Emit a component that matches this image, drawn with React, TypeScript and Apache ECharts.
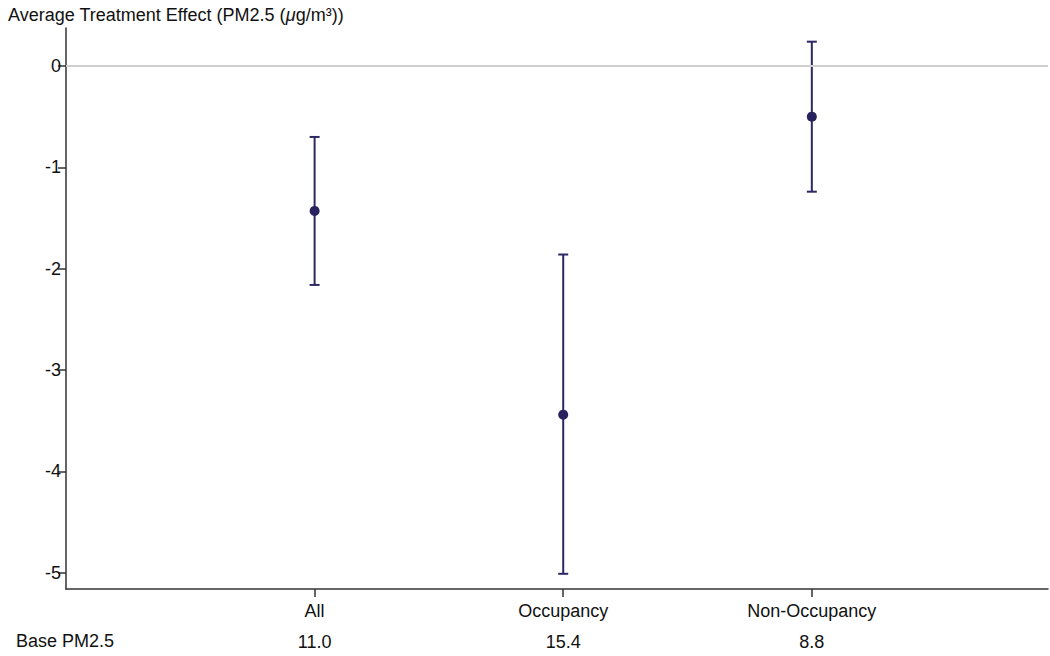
import React, { useEffect, useRef } from "react";
import * as echarts from "echarts";

// Average treatment effect estimates with 95% confidence intervals
const groups = ["All", "Occupancy", "Non-Occupancy"];
const basePM25 = ["11.0", "15.4", "8.8"];
const estimate = [-1.43, -3.44, -0.5];
const ciLower = [-2.16, -5.01, -1.24];
const ciUpper = [-0.7, -1.86, 0.24];
const yTicks = [-5, -4, -3, -2, -1, 0];
const xPositions = [1, 2, 3];

const FONT = "'Liberation Sans', Arial, Helvetica, sans-serif";
const FS = 18;
const MARK = "#2c2862";

export default function App() {
  const ref = useRef<HTMLDivElement>(null);

  useEffect(() => {
    document.body.style.margin = "0";
    if (!ref.current) return;
    const chart = echarts.init(ref.current, null, { renderer: "svg" });

    const barData = xPositions.map((x, i) => [x, ciLower[i], ciUpper[i]]);
    const pointData = xPositions.map((x, i) => [x, estimate[i]]);

    chart.setOption({
      animation: false,
      backgroundColor: "#ffffff",
      textStyle: { fontFamily: FONT },
      title: {
        text: "Average Treatment Effect (PM2.5 ({i|μ}g/m³))",
        left: 8,
        top: 6,
        padding: 0,
        textStyle: {
          fontFamily: FONT,
          fontSize: FS,
          fontWeight: "normal",
          color: "#111",
          rich: {
            i: { fontFamily: FONT, fontSize: FS, fontStyle: "italic", color: "#111" },
          },
        },
      },
      graphic: [
        {
          type: "text",
          left: 16,
          top: 632,
          style: { text: "Base PM2.5", font: `${FS}px ${FONT}`, fill: "#111" },
        },
      ],
      grid: { left: 66, right: 2, top: 28, bottom: 67 },
      xAxis: {
        type: "value",
        min: 0,
        max: 3.95,
        splitLine: { show: false },
        axisLine: { show: true, onZero: false, lineStyle: { color: "#333", width: 1.5 } },
        axisTick: {
          show: true,
          customValues: xPositions,
          length: 8,
          lineStyle: { color: "#333", width: 1.5 },
        },
        axisLabel: {
          customValues: xPositions,
          margin: 6,
          formatter: (v: number) => {
            const i = xPositions.indexOf(Math.round(v));
            return `{c|${groups[i]}}\n{b|${basePM25[i]}}`;
          },
          rich: {
            c: { fontFamily: FONT, fontSize: FS, lineHeight: 31, color: "#111" },
            b: { fontFamily: FONT, fontSize: FS, lineHeight: 31, color: "#111" },
          },
        },
      },
      yAxis: {
        type: "value",
        min: -5.16,
        max: 0.375,
        splitLine: { show: false },
        axisLine: { show: true, lineStyle: { color: "#333", width: 1.5 } },
        axisTick: {
          show: true,
          customValues: yTicks,
          length: 8,
          lineStyle: { color: "#333", width: 1.5 },
        },
        axisLabel: {
          customValues: yTicks,
          margin: 5,
          fontFamily: FONT,
          fontSize: FS,
          color: "#111",
        },
      },
      series: [
        {
          type: "custom",
          data: barData,
          z: 3,
          markLine: {
            silent: true,
            symbol: "none",
            label: { show: false },
            lineStyle: { color: "#d0d0d0", type: "solid", width: 2 },
            data: [{ yAxis: 0 }],
          },
          renderItem: (params: any, api: any) => {
            const x = api.value(0);
            const lo = api.coord([x, api.value(1)]);
            const hi = api.coord([x, api.value(2)]);
            const half = 5;
            const style = { stroke: MARK, lineWidth: 2, fill: "none" };
            return {
              type: "group",
              children: [
                { type: "line", shape: { x1: lo[0], y1: lo[1], x2: hi[0], y2: hi[1] }, style },
                { type: "line", shape: { x1: hi[0] - half, y1: hi[1], x2: hi[0] + half, y2: hi[1] }, style },
                { type: "line", shape: { x1: lo[0] - half, y1: lo[1], x2: lo[0] + half, y2: lo[1] }, style },
              ],
            };
          },
        },
        {
          type: "scatter",
          data: pointData,
          symbol: "circle",
          symbolSize: 10,
          z: 4,
          itemStyle: { color: "#28225e", opacity: 1 },
        },
      ],
    });

    return () => chart.dispose();
  }, []);

  return <div ref={ref} style={{ width: 1050, height: 656 }} />;
}
